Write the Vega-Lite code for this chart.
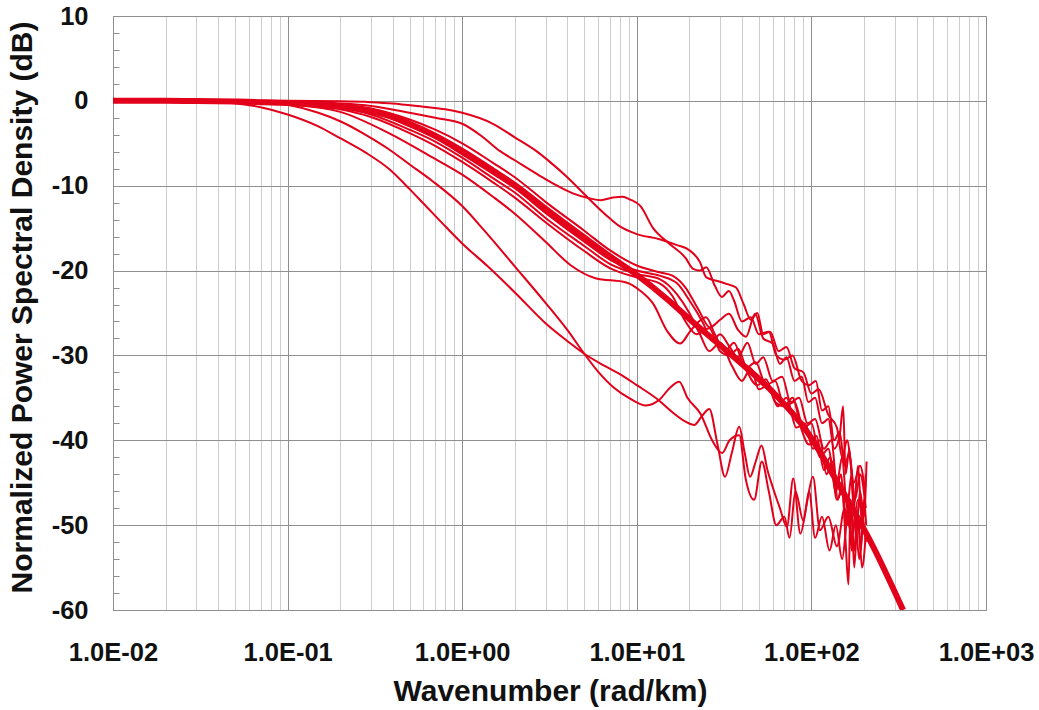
{
  "$schema": "https://vega.github.io/schema/vega-lite/v6.json",
  "width": 873,
  "height": 594,
  "autosize": {"type": "none"},
  "padding": {"left": 113, "top": 16, "right": 53, "bottom": 100},
  "background": "white",
  "config": {"view": {"stroke": null}, "font": "Liberation Sans"},
  "data": {"values": [
    {"s":"model","k":0.01,"db":0},{"s":"model","k":0.02,"db":0},{"s":"model","k":0.03,"db":-0.02},{"s":"model","k":0.05,"db":-0.08},{"s":"model","k":0.07,"db":-0.15},{"s":"model","k":0.1,"db":-0.25},{"s":"model","k":0.15,"db":-0.45},{"s":"model","k":0.2,"db":-0.65},{"s":"model","k":0.3,"db":-1.2},{"s":"model","k":0.4,"db":-1.9},{"s":"model","k":0.5,"db":-2.7},{"s":"model","k":0.7,"db":-4.1},{"s":"model","k":1,"db":-5.9},{"s":"model","k":1.5,"db":-8.2},{"s":"model","k":2,"db":-9.9},{"s":"model","k":3,"db":-12.7},{"s":"model","k":5,"db":-16.1},{"s":"model","k":7,"db":-18.3},{"s":"model","k":10,"db":-20.5},{"s":"model","k":15,"db":-23.4},{"s":"model","k":20,"db":-25.7},{"s":"model","k":30,"db":-28.8},{"s":"model","k":40,"db":-31.0},{"s":"model","k":60,"db":-34.3},{"s":"model","k":93,"db":-38.8},{"s":"model","k":144,"db":-45.3},{"s":"model","k":224,"db":-52.4},{"s":"model","k":335,"db":-60},

    {"s":"UA","k":0.01,"db":0},{"s":"UA","k":0.1,"db":0},{"s":"UA","k":0.2,"db":-0.05},{"s":"UA","k":0.3,"db":-0.15},{"s":"UA","k":0.4,"db":-0.3},{"s":"UA","k":0.6,"db":-0.7},{"s":"UA","k":0.8,"db":-1.0},{"s":"UA","k":1,"db":-1.4},{"s":"UA","k":1.5,"db":-2.7},{"s":"UA","k":2,"db":-4.3},{"s":"UA","k":2.65,"db":-5.9},{"s":"UA","k":3.14,"db":-7.1},{"s":"UA","k":4,"db":-9.0},{"s":"UA","k":4.9,"db":-10.8},{"s":"UA","k":6.7,"db":-13.5},{"s":"UA","k":8,"db":-14.8},{"s":"UA","k":10,"db":-15.7},{"s":"UA","k":13.5,"db":-16.3},{"s":"UA","k":17,"db":-17.0},{"s":"UA","k":20,"db":-17.6},{"s":"UA","k":23,"db":-19.0},{"s":"UA","k":25,"db":-20.8},{"s":"UA","k":28.6,"db":-21.2},{"s":"UA","k":33,"db":-21.6},{"s":"UA","k":37,"db":-22.0},{"s":"UA","k":41,"db":-24.0},{"s":"UA","k":45,"db":-25.8},{"s":"UA","k":49,"db":-25.0},{"s":"UA","k":53,"db":-27.5},{"s":"UA","k":58,"db":-27.2},{"s":"UA","k":65,"db":-29.5},{"s":"UA","k":72,"db":-29.0},{"s":"UA","k":80,"db":-31.5},{"s":"UA","k":90,"db":-32.0},{"s":"UA","k":100,"db":-34.5},{"s":"UA","k":110,"db":-34.0},{"s":"UA","k":125,"db":-37.0},{"s":"UA","k":140,"db":-38.5},{"s":"UA","k":150,"db":-42.0},{"s":"UA","k":160,"db":-40.0},{"s":"UA","k":175,"db":-45.0},{"s":"UA","k":190,"db":-43.0},{"s":"UA","k":203,"db":-46.0},

    {"s":"UB","k":0.01,"db":0},{"s":"UB","k":0.05,"db":0},{"s":"UB","k":0.1,"db":-0.1},{"s":"UB","k":0.2,"db":-0.3},{"s":"UB","k":0.3,"db":-0.6},{"s":"UB","k":0.5,"db":-1.4},{"s":"UB","k":0.7,"db":-2.0},{"s":"UB","k":1,"db":-2.7},{"s":"UB","k":1.3,"db":-4.2},{"s":"UB","k":1.64,"db":-5.9},{"s":"UB","k":2,"db":-7.0},{"s":"UB","k":2.77,"db":-8.8},{"s":"UB","k":3.5,"db":-10.0},{"s":"UB","k":4.3,"db":-10.9},{"s":"UB","k":5.4,"db":-11.5},{"s":"UB","k":6.2,"db":-11.7},{"s":"UB","k":7.3,"db":-11.4},{"s":"UB","k":8.3,"db":-11.3},{"s":"UB","k":9.1,"db":-11.6},{"s":"UB","k":10.5,"db":-12.4},{"s":"UB","k":12.4,"db":-15.0},{"s":"UB","k":15.3,"db":-16.8},{"s":"UB","k":19,"db":-18.5},{"s":"UB","k":21,"db":-19.8},{"s":"UB","k":23,"db":-20.0},{"s":"UB","k":25,"db":-19.6},{"s":"UB","k":28,"db":-21.8},{"s":"UB","k":30.7,"db":-23.1},{"s":"UB","k":33.7,"db":-22.4},{"s":"UB","k":36,"db":-23.5},{"s":"UB","k":40,"db":-26.0},{"s":"UB","k":45,"db":-25.5},{"s":"UB","k":50,"db":-27.5},{"s":"UB","k":57,"db":-27.2},{"s":"UB","k":63,"db":-30.0},{"s":"UB","k":70,"db":-30.5},{"s":"UB","k":78,"db":-30.0},{"s":"UB","k":88,"db":-33.0},{"s":"UB","k":97,"db":-33.5},{"s":"UB","k":106,"db":-33.0},{"s":"UB","k":115,"db":-36.5},{"s":"UB","k":125,"db":-36.0},{"s":"UB","k":135,"db":-40.0},{"s":"UB","k":145,"db":-39.0},{"s":"UB","k":155,"db":-43.0},{"s":"UB","k":165,"db":-41.5},{"s":"UB","k":178,"db":-47.0},{"s":"UB","k":190,"db":-44.0},{"s":"UB","k":205,"db":-48.0},

    {"s":"M1","k":0.01,"db":0},{"s":"M1","k":0.05,"db":0},{"s":"M1","k":0.1,"db":-0.1},{"s":"M1","k":0.2,"db":-0.4},{"s":"M1","k":0.3,"db":-0.9},{"s":"M1","k":0.5,"db":-2.2},{"s":"M1","k":0.7,"db":-3.4},{"s":"M1","k":1,"db":-5.0},{"s":"M1","k":1.5,"db":-7.3},{"s":"M1","k":2,"db":-9.0},{"s":"M1","k":3,"db":-11.9},{"s":"M1","k":5,"db":-15.3},{"s":"M1","k":7,"db":-17.6},{"s":"M1","k":10,"db":-19.4},{"s":"M1","k":13.5,"db":-20.2},{"s":"M1","k":16,"db":-20.6},{"s":"M1","k":19,"db":-22.0},{"s":"M1","k":22.7,"db":-24.7},{"s":"M1","k":26.2,"db":-26.7},{"s":"M1","k":30,"db":-25.8},{"s":"M1","k":33.7,"db":-25.1},{"s":"M1","k":38,"db":-27.0},{"s":"M1","k":42.2,"db":-27.8},{"s":"M1","k":47.6,"db":-25.1},{"s":"M1","k":53,"db":-28.0},{"s":"M1","k":60,"db":-28.6},{"s":"M1","k":66,"db":-31.0},{"s":"M1","k":72,"db":-30.2},{"s":"M1","k":80,"db":-33.0},{"s":"M1","k":88,"db":-32.5},{"s":"M1","k":96,"db":-35.5},{"s":"M1","k":105,"db":-35.0},{"s":"M1","k":115,"db":-38.0},{"s":"M1","k":125,"db":-37.5},{"s":"M1","k":135,"db":-41.0},{"s":"M1","k":145,"db":-39.5},{"s":"M1","k":152,"db":-36.0},{"s":"M1","k":157,"db":-44.0},{"s":"M1","k":165,"db":-41.0},{"s":"M1","k":175,"db":-48.0},{"s":"M1","k":185,"db":-43.0},{"s":"M1","k":195,"db":-50.0},{"s":"M1","k":205,"db":-44.0},

    {"s":"M2","k":0.01,"db":0},{"s":"M2","k":0.05,"db":-0.05},{"s":"M2","k":0.1,"db":-0.2},{"s":"M2","k":0.2,"db":-0.6},{"s":"M2","k":0.3,"db":-1.3},{"s":"M2","k":0.5,"db":-3.0},{"s":"M2","k":0.7,"db":-4.4},{"s":"M2","k":1,"db":-6.3},{"s":"M2","k":1.5,"db":-8.6},{"s":"M2","k":2,"db":-10.3},{"s":"M2","k":3,"db":-13.2},{"s":"M2","k":5,"db":-16.6},{"s":"M2","k":7,"db":-18.7},{"s":"M2","k":10,"db":-20.0},{"s":"M2","k":13.5,"db":-20.6},{"s":"M2","k":17,"db":-21.5},{"s":"M2","k":20,"db":-23.5},{"s":"M2","k":24,"db":-26.2},{"s":"M2","k":27,"db":-28.3},{"s":"M2","k":30,"db":-27.5},{"s":"M2","k":34,"db":-29.0},{"s":"M2","k":38,"db":-30.2},{"s":"M2","k":43,"db":-28.5},{"s":"M2","k":48,"db":-31.0},{"s":"M2","k":53,"db":-30.2},{"s":"M2","k":60,"db":-33.0},{"s":"M2","k":68,"db":-32.5},{"s":"M2","k":76,"db":-35.5},{"s":"M2","k":85,"db":-35.0},{"s":"M2","k":95,"db":-38.0},{"s":"M2","k":105,"db":-37.5},{"s":"M2","k":118,"db":-41.0},{"s":"M2","k":130,"db":-40.0},{"s":"M2","k":140,"db":-45.0},{"s":"M2","k":150,"db":-42.0},{"s":"M2","k":160,"db":-48.0},{"s":"M2","k":170,"db":-44.0},{"s":"M2","k":180,"db":-51.0},{"s":"M2","k":190,"db":-46.0},{"s":"M2","k":200,"db":-49.0},{"s":"M2","k":207,"db":-42.5},

    {"s":"M3","k":0.01,"db":0},{"s":"M3","k":0.05,"db":-0.05},{"s":"M3","k":0.1,"db":-0.3},{"s":"M3","k":0.2,"db":-0.8},{"s":"M3","k":0.3,"db":-1.6},{"s":"M3","k":0.5,"db":-3.4},{"s":"M3","k":0.7,"db":-4.8},{"s":"M3","k":1,"db":-6.7},{"s":"M3","k":1.5,"db":-9.1},{"s":"M3","k":2,"db":-10.8},{"s":"M3","k":3,"db":-13.8},{"s":"M3","k":5,"db":-17.1},{"s":"M3","k":7,"db":-19.2},{"s":"M3","k":10,"db":-20.4},{"s":"M3","k":13.5,"db":-21.0},{"s":"M3","k":17,"db":-22.8},{"s":"M3","k":20,"db":-25.0},{"s":"M3","k":23,"db":-27.5},{"s":"M3","k":26,"db":-29.5},{"s":"M3","k":30,"db":-28.5},{"s":"M3","k":35,"db":-31.2},{"s":"M3","k":40,"db":-33.0},{"s":"M3","k":45,"db":-31.5},{"s":"M3","k":50,"db":-34.0},{"s":"M3","k":57,"db":-33.5},{"s":"M3","k":64,"db":-36.0},{"s":"M3","k":72,"db":-35.0},{"s":"M3","k":82,"db":-38.5},{"s":"M3","k":92,"db":-38.0},{"s":"M3","k":102,"db":-41.0},{"s":"M3","k":112,"db":-40.0},{"s":"M3","k":122,"db":-44.0},{"s":"M3","k":132,"db":-42.5},{"s":"M3","k":142,"db":-47.0},{"s":"M3","k":150,"db":-45.0},{"s":"M3","k":157,"db":-52.0},{"s":"M3","k":163,"db":-57.0},{"s":"M3","k":168,"db":-47.0},{"s":"M3","k":176,"db":-55.0},{"s":"M3","k":184,"db":-49.0},{"s":"M3","k":192,"db":-53.0},{"s":"M3","k":200,"db":-47.0},{"s":"M3","k":206,"db":-50.0},

    {"s":"M4","k":0.01,"db":0},{"s":"M4","k":0.05,"db":-0.1},{"s":"M4","k":0.1,"db":-0.35},{"s":"M4","k":0.2,"db":-1.0},{"s":"M4","k":0.3,"db":-1.9},{"s":"M4","k":0.5,"db":-3.8},{"s":"M4","k":0.7,"db":-5.3},{"s":"M4","k":1,"db":-7.2},{"s":"M4","k":1.5,"db":-9.6},{"s":"M4","k":2,"db":-11.4},{"s":"M4","k":3,"db":-14.3},{"s":"M4","k":5,"db":-17.7},{"s":"M4","k":7,"db":-19.7},{"s":"M4","k":10,"db":-20.8},{"s":"M4","k":13.5,"db":-21.5},{"s":"M4","k":16,"db":-23.0},{"s":"M4","k":19,"db":-26.0},{"s":"M4","k":22,"db":-27.5},{"s":"M4","k":26,"db":-26.8},{"s":"M4","k":30,"db":-29.5},{"s":"M4","k":34,"db":-30.0},{"s":"M4","k":38,"db":-29.2},{"s":"M4","k":43,"db":-32.0},{"s":"M4","k":49,"db":-33.5},{"s":"M4","k":55,"db":-32.8},{"s":"M4","k":62,"db":-35.5},{"s":"M4","k":70,"db":-36.0},{"s":"M4","k":78,"db":-35.0},{"s":"M4","k":87,"db":-38.5},{"s":"M4","k":97,"db":-40.5},{"s":"M4","k":107,"db":-39.5},{"s":"M4","k":118,"db":-43.5},{"s":"M4","k":128,"db":-42.0},{"s":"M4","k":140,"db":-47.0},{"s":"M4","k":150,"db":-46.0},{"s":"M4","k":160,"db":-50.0},{"s":"M4","k":168,"db":-47.0},{"s":"M4","k":176,"db":-53.0},{"s":"M4","k":185,"db":-49.0},{"s":"M4","k":195,"db":-55.0},{"s":"M4","k":205,"db":-51.0},

    {"s":"L3","k":0.01,"db":0},{"s":"L3","k":0.03,"db":0},{"s":"L3","k":0.05,"db":-0.1},{"s":"L3","k":0.1,"db":-0.4},{"s":"L3","k":0.2,"db":-1.3},{"s":"L3","k":0.38,"db":-3.8},{"s":"L3","k":0.68,"db":-6.7},{"s":"L3","k":1,"db":-8.7},{"s":"L3","k":1.5,"db":-11.3},{"s":"L3","k":2,"db":-13.3},{"s":"L3","k":3,"db":-16.6},{"s":"L3","k":4.2,"db":-19.4},{"s":"L3","k":5.8,"db":-20.9},{"s":"L3","k":8.7,"db":-21.4},{"s":"L3","k":10.5,"db":-22.4},{"s":"L3","k":12.4,"db":-23.9},{"s":"L3","k":15,"db":-27.2},{"s":"L3","k":17.7,"db":-28.6},{"s":"L3","k":20.3,"db":-27.1},{"s":"L3","k":24.9,"db":-25.5},{"s":"L3","k":28,"db":-27.5},{"s":"L3","k":32,"db":-29.5},{"s":"L3","k":36,"db":-28.5},{"s":"L3","k":42,"db":-31.5},{"s":"L3","k":48,"db":-30.8},{"s":"L3","k":55,"db":-33.5},{"s":"L3","k":62,"db":-33.0},{"s":"L3","k":70,"db":-36.0},{"s":"L3","k":80,"db":-35.5},{"s":"L3","k":90,"db":-38.5},{"s":"L3","k":100,"db":-38.0},{"s":"L3","k":112,"db":-42.0},{"s":"L3","k":125,"db":-41.0},{"s":"L3","k":138,"db":-46.0},{"s":"L3","k":148,"db":-44.0},{"s":"L3","k":157,"db":-50.0},{"s":"L3","k":163,"db":-47.0},{"s":"L3","k":170,"db":-53.0},{"s":"L3","k":178,"db":-49.0},{"s":"L3","k":188,"db":-54.0},{"s":"L3","k":198,"db":-50.0},{"s":"L3","k":205,"db":-52.0},

    {"s":"L2","k":0.01,"db":0},{"s":"L2","k":0.05,"db":0},{"s":"L2","k":0.07,"db":-0.1},{"s":"L2","k":0.1,"db":-0.45},{"s":"L2","k":0.15,"db":-1.4},{"s":"L2","k":0.2,"db":-2.4},{"s":"L2","k":0.28,"db":-4.0},{"s":"L2","k":0.38,"db":-5.7},{"s":"L2","k":0.5,"db":-7.5},{"s":"L2","k":0.68,"db":-9.5},{"s":"L2","k":1,"db":-12.4},{"s":"L2","k":1.34,"db":-15.3},{"s":"L2","k":2,"db":-19.5},{"s":"L2","k":3,"db":-23.8},{"s":"L2","k":4,"db":-27.0},{"s":"L2","k":5,"db":-29.8},{"s":"L2","k":6,"db":-31.9},{"s":"L2","k":7.4,"db":-33.8},{"s":"L2","k":9,"db":-35.0},{"s":"L2","k":11.3,"db":-35.9},{"s":"L2","k":13.5,"db":-35.2},{"s":"L2","k":15.5,"db":-33.8},{"s":"L2","k":17.5,"db":-33.1},{"s":"L2","k":19.5,"db":-35.0},{"s":"L2","k":23.2,"db":-36.9},{"s":"L2","k":27,"db":-40.0},{"s":"L2","k":30.8,"db":-41.5},{"s":"L2","k":34,"db":-40.0},{"s":"L2","k":38.6,"db":-39.4},{"s":"L2","k":42,"db":-44.5},{"s":"L2","k":47,"db":-47.0},{"s":"L2","k":52,"db":-42.5},{"s":"L2","k":57,"db":-46.0},{"s":"L2","k":63,"db":-50.0},{"s":"L2","k":70,"db":-49.0},{"s":"L2","k":75,"db":-51.5},{"s":"L2","k":81,"db":-46.0},{"s":"L2","k":90,"db":-49.5},{"s":"L2","k":97,"db":-46.0},{"s":"L2","k":105,"db":-51.5},{"s":"L2","k":115,"db":-49.0},{"s":"L2","k":127,"db":-53.0},{"s":"L2","k":138,"db":-50.0},{"s":"L2","k":150,"db":-54.0},{"s":"L2","k":162,"db":-49.0},{"s":"L2","k":175,"db":-53.0},{"s":"L2","k":188,"db":-47.5},{"s":"L2","k":200,"db":-51.0},

    {"s":"L1","k":0.01,"db":0},{"s":"L1","k":0.02,"db":0},{"s":"L1","k":0.03,"db":-0.05},{"s":"L1","k":0.048,"db":-0.25},{"s":"L1","k":0.07,"db":-0.75},{"s":"L1","k":0.1,"db":-1.6},{"s":"L1","k":0.15,"db":-3.0},{"s":"L1","k":0.2,"db":-4.4},{"s":"L1","k":0.28,"db":-6.1},{"s":"L1","k":0.38,"db":-8.0},{"s":"L1","k":0.5,"db":-10.4},{"s":"L1","k":0.6,"db":-12.1},{"s":"L1","k":0.81,"db":-14.9},{"s":"L1","k":1,"db":-16.8},{"s":"L1","k":1.4,"db":-19.5},{"s":"L1","k":2.03,"db":-22.7},{"s":"L1","k":3,"db":-26.2},{"s":"L1","k":4,"db":-28.3},{"s":"L1","k":5,"db":-29.8},{"s":"L1","k":6.5,"db":-31.2},{"s":"L1","k":8,"db":-32.2},{"s":"L1","k":10,"db":-33.5},{"s":"L1","k":13.4,"db":-35.3},{"s":"L1","k":16,"db":-36.7},{"s":"L1","k":19,"db":-37.8},{"s":"L1","k":21.3,"db":-38.2},{"s":"L1","k":23.5,"db":-37.2},{"s":"L1","k":26,"db":-36.3},{"s":"L1","k":29,"db":-40.5},{"s":"L1","k":32,"db":-44.3},{"s":"L1","k":35,"db":-41.5},{"s":"L1","k":38.6,"db":-38.4},{"s":"L1","k":41.5,"db":-41.5},{"s":"L1","k":44.5,"db":-44.3},{"s":"L1","k":48,"db":-42.5},{"s":"L1","k":51.8,"db":-40.6},{"s":"L1","k":56,"db":-43.5},{"s":"L1","k":60,"db":-45.5},{"s":"L1","k":66,"db":-48.0},{"s":"L1","k":72.4,"db":-50.2},{"s":"L1","k":78.7,"db":-44.5},{"s":"L1","k":86.5,"db":-51.0},{"s":"L1","k":94,"db":-47.5},{"s":"L1","k":102,"db":-44.3},{"s":"L1","k":112,"db":-50.6},{"s":"L1","k":125,"db":-49.0},{"s":"L1","k":140,"db":-52.5},{"s":"L1","k":155,"db":-48.0},{"s":"L1","k":170,"db":-51.0},{"s":"L1","k":185,"db":-47.0},{"s":"L1","k":200,"db":-50.0}
  ]},
  "encoding": {
    "x": {
      "field": "k",
      "type": "quantitative",
      "scale": {"type": "log", "domain": [0.01, 1000], "nice": false},
      "axis": {
        "values": [0.01,0.02,0.03,0.04,0.05,0.06,0.07,0.08,0.09,0.1,0.2,0.3,0.4,0.5,0.6,0.7,0.8,0.9,1,2,3,4,5,6,7,8,9,10,20,30,40,50,60,70,80,90,100,200,300,400,500,600,700,800,900,1000],
        "title": "Wavenumber (rad/km)",
        "grid": true,
        "gridColor": {"condition": {"test": "abs(log(datum.value)/LN10 - round(log(datum.value)/LN10)) < 0.001", "value": "#8f8f8f"}, "value": "#cdcdcd"},
        "gridWidth": 1,
        "ticks": false,
        "domainColor": "#8f8f8f",
        "labelExpr": "abs(log(datum.value)/LN10 - round(log(datum.value)/LN10)) < 0.001 ? '1.0E' + (datum.value < 1 ? '-' : '+') + '0' + abs(round(log(datum.value)/LN10)) : ''",
        "labelFont": "Liberation Sans",
        "labelFontSize": 25.5,
        "labelFontWeight": "bold",
        "labelColor": "#111111",
        "labelPadding": 30,
        "labelOverlap": false,
        "labelFlush": false,
        "labelBound": false,
        "titleFont": "Liberation Sans",
        "titleFontSize": 30,
        "titleFontWeight": "bold",
        "titleColor": "#111111",
        "titleLimit": 1000,
        "titleBaseline": "alphabetic",
        "titleAlign": "center",
        "titleX": 437,
        "titleY": 90
      }
    },
    "y": {
      "field": "db",
      "type": "quantitative",
      "scale": {"domain": [-60, 10], "nice": false, "zero": false},
      "axis": {
        "values": [-60,-58,-56,-54,-52,-50,-48,-46,-44,-42,-40,-38,-36,-34,-32,-30,-28,-26,-24,-22,-20,-18,-16,-14,-12,-10,-8,-6,-4,-2,0,2,4,6,8,10],
        "title": "Normalized Power Spectral Density (dB)",
        "grid": true,
        "gridColor": "#8f8f8f",
        "gridOpacity": {"condition": {"test": "datum.value % 10 == 0", "value": 1}, "value": 0},
        "ticks": true,
        "tickSize": -6,
        "tickColor": "#8f8f8f",
        "domainColor": "#8f8f8f",
        "labelExpr": "datum.value % 10 == 0 ? toString(datum.value) : ''",
        "labelFont": "Liberation Sans",
        "labelFontSize": 25.5,
        "labelFontWeight": "bold",
        "labelColor": "#111111",
        "labelPadding": 31,
        "labelOverlap": false,
        "labelFlush": false,
        "labelBound": false,
        "titleFont": "Liberation Sans",
        "titleFontSize": 30,
        "titleFontWeight": "bold",
        "titleColor": "#111111",
        "titleLimit": 1000,
        "titleAngle": 270,
        "titleBaseline": "alphabetic",
        "titleAlign": "center",
        "titleX": -82,
        "titleY": 291
      }
    }
  },
  "layer": [
    {
      "transform": [{"filter": "datum.s != 'model'"}],
      "mark": {"type": "line", "color": "#e2001a", "strokeWidth": 2, "interpolate": "monotone", "clip": true},
      "encoding": {"detail": {"field": "s", "type": "nominal"}}
    },
    {
      "transform": [{"filter": "datum.s == 'model'"}],
      "mark": {"type": "line", "color": "#e2001a", "strokeWidth": 6, "interpolate": "monotone", "clip": true},
      "encoding": {}
    }
  ]
}
